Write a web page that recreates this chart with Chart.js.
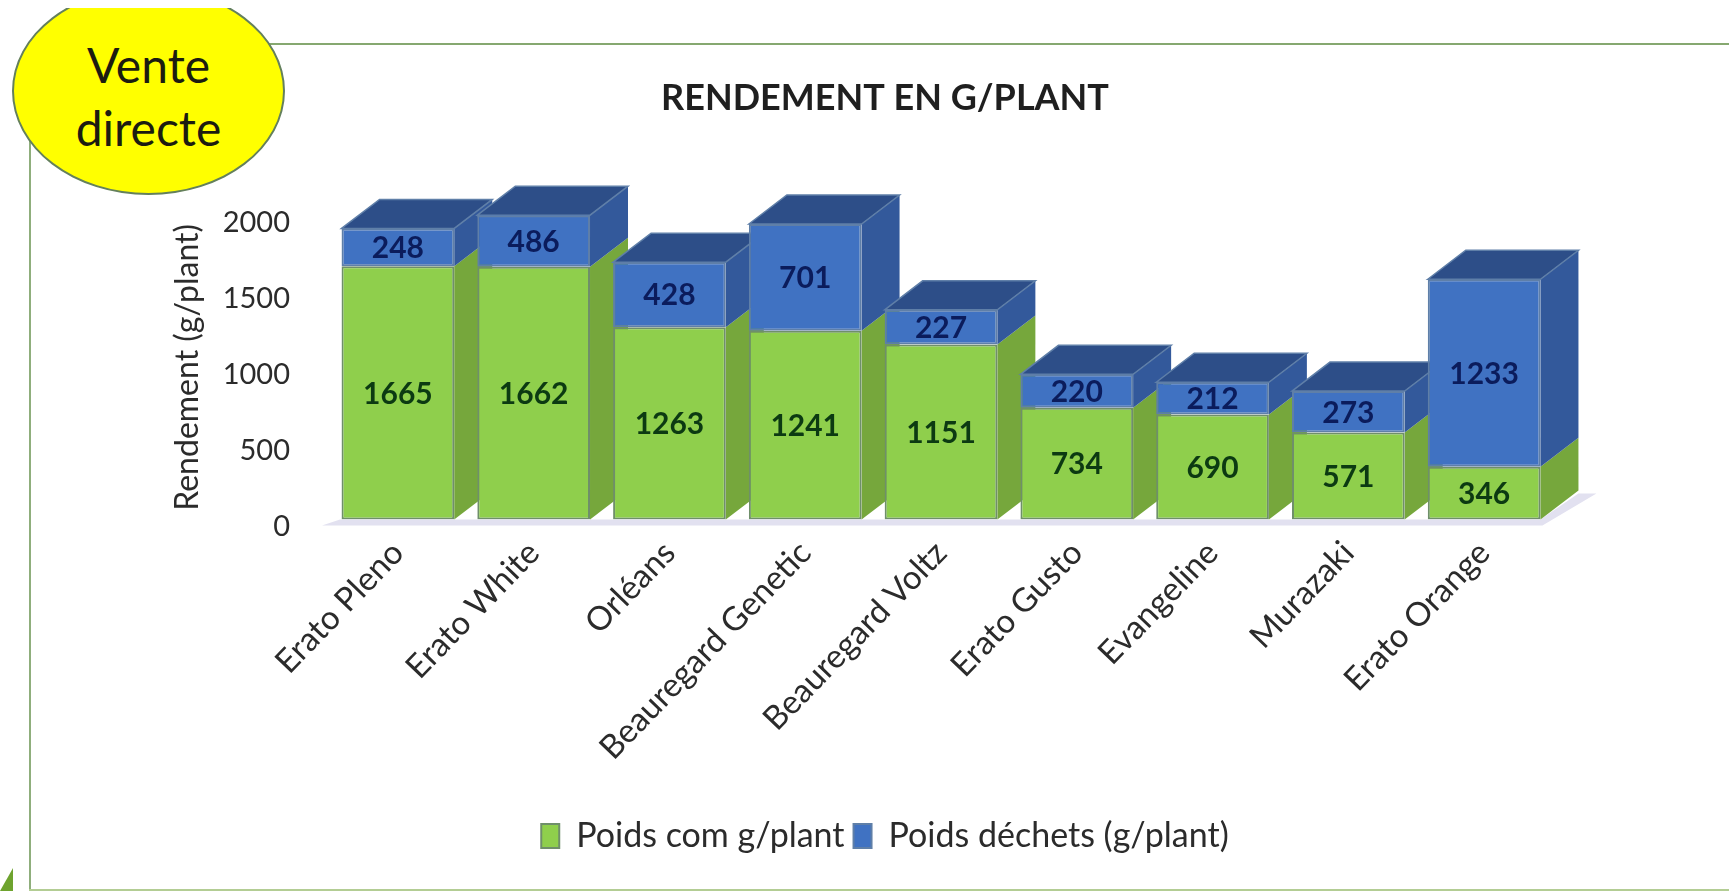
<!DOCTYPE html>
<html lang="fr">
<head>
<meta charset="utf-8">
<title>Rendement en g/plant</title>
<script src="https://cdn.jsdelivr.net/npm/chart.js@4"></script>
<style>
  html, body { margin: 0; padding: 0; background: #fff; overflow: hidden; }
  body { position: relative; width: 1729px; height: 891px; font-family: Lato, sans-serif; }
  #frame-top    { position: absolute; left: 30px; top: 43px; right: 0; height: 2px; background: #86a870; }
  #frame-left   { position: absolute; left: 29px; top: 43px; bottom: 2px; width: 2px; background: #8fae7c; }
  #frame-bottom { position: absolute; left: 29px; right: 0; bottom: 0; height: 2px; background: #b3cd94; }
  #corner { position: absolute; left: 0; top: 868px; width: 13px; height: 23px; background: #6ea32e; clip-path: polygon(100% 0, 100% 100%, 0 100%); }
  #chart-box { position: absolute; left: 41px; top: 0; width: 1688px; height: 891px; filter: blur(0.6px); }
  #badge-clip { position: absolute; left: 0; top: 8px; width: 300px; height: 200px; overflow: hidden; }
  #badge {
    position: absolute; left: 12px; top: -21px; width: 273px; height: 208px; box-sizing: border-box;
    border: 2px solid #64805c; border-radius: 50%; background: #ffff00; color: #1c1c10;
    font-size: 48px; line-height: 63px; text-align: center; padding-top: 44px;
  }
</style>
</head>
<body>
<div id="frame-top"></div>
<div id="frame-left"></div>
<div id="frame-bottom"></div>
<div id="corner"></div>
<div id="chart-box"><canvas id="chart-rendement" width="1688" height="891"></canvas></div>
<div id="badge-clip"><div id="badge">Vente<br>directe</div></div>
<script>
const VARIETIES = ['Erato Pleno', 'Erato White', 'Orléans', 'Beauregard Genetic', 'Beauregard Voltz', 'Erato Gusto', 'Evangeline', 'Murazaki', 'Erato Orange'];
const POIDS_COM = [1665, 1662, 1263, 1241, 1151, 734, 690, 571, 346];
const POIDS_DECHETS = [248, 486, 428, 701, 227, 220, 212, 273, 1233];

const C = {
  greenFront: '#8fcf4c',
  greenSide:  '#76a73c',
  greenEdge:  '#6f8f6a',
  blueFront:  '#4072c2',
  blueSide:   '#33599b',
  blueTop:    '#2d4e88',
  blueEdge:   '#5f7fa8',
  floor:      '#e2e1f0',
  text:       '#2b2b2b',
  labelGreen: '#0c3a12',
  labelBlue:  '#0b1c5c',
};
const FONT = 'Lato';
const DEPTH_X = 38;
const DEPTH_Y = 29;

function poly(ctx, pts, fill, stroke) {
  ctx.beginPath();
  pts.forEach((p, i) => i ? ctx.lineTo(p[0], p[1]) : ctx.moveTo(p[0], p[1]));
  ctx.closePath();
  ctx.fillStyle = fill;
  ctx.fill();
  if (stroke) {
    ctx.strokeStyle = stroke;
    ctx.lineWidth = 1.5;
    ctx.stroke();
  }
}

// faked 3D: floor, side and top faces are worked out from the bar elements
const depthPlugin = {
  id: 'depth',
  beforeDatasetsDraw(chart) {
    const ctx = chart.ctx;
    const top = chart.chartArea.top;
    const green = chart.getDatasetMeta(0).data;
    const blue = chart.getDatasetMeta(1).data;
    const last = green[green.length - 1];
    const lastRight = last.x + last.width / 2;
    const base = last.base;

    ctx.save();
    poly(ctx, [
      [chart.chartArea.left - 8, base + 6],
      [lastRight + 2, base + 6],
      [lastRight + DEPTH_X + 18, base - DEPTH_Y + 3],
      [lastRight + DEPTH_X, base - DEPTH_Y + 3],
      [lastRight, base],
      [chart.chartArea.left + 10, base],
    ], C.floor);

    green.forEach((bar, i) => {
      const right = bar.x + bar.width / 2;
      const left = bar.x - bar.width / 2;
      const seam = bar.y;
      const upper = Math.max(blue[i].y, top);
      poly(ctx, [[right, base], [right + DEPTH_X, base - DEPTH_Y], [right + DEPTH_X, seam - DEPTH_Y], [right, seam]], C.greenSide);
      poly(ctx, [[right, seam], [right + DEPTH_X, seam - DEPTH_Y], [right + DEPTH_X, upper - DEPTH_Y], [right, upper]], C.blueSide);
      poly(ctx, [[left, upper], [left + DEPTH_X, upper - DEPTH_Y], [right + DEPTH_X, upper - DEPTH_Y], [right, upper]], C.blueTop, C.blueEdge);
    });
    ctx.restore();
  },
  afterDatasetsDraw(chart) {
    const ctx = chart.ctx;
    const top = chart.chartArea.top;
    ctx.save();
    ctx.textAlign = 'center';
    ctx.textBaseline = 'middle';
    ctx.font = 'bold 30px ' + FONT;
    [C.labelGreen, C.labelBlue].forEach((color, d) => {
      ctx.fillStyle = color;
      chart.getDatasetMeta(d).data.forEach((bar, i) => {
        const upper = Math.max(bar.y, top);
        const value = chart.data.datasets[d].data[i];
        ctx.fillText(String(value), bar.x, (upper + bar.base) / 2 + 1);
      });
    });
    // the bar that runs past the axis maximum loses its top border to the clip
    ctx.strokeStyle = C.blueEdge;
    ctx.lineWidth = 2;
    chart.getDatasetMeta(1).data.forEach(bar => {
      if (bar.y < top) {
        ctx.beginPath();
        ctx.moveTo(bar.x - bar.width / 2, top + 1);
        ctx.lineTo(bar.x + bar.width / 2, top + 1);
        ctx.stroke();
      }
    });
    ctx.restore();
  },
};

new Chart(document.getElementById('chart-rendement'), {
  type: 'bar',
  data: {
    labels: VARIETIES,
    datasets: [
      { label: 'Poids com g/plant', data: POIDS_COM, backgroundColor: C.greenFront, borderColor: C.greenEdge, borderWidth: 2, borderSkipped: false },
      { label: 'Poids déchets (g/plant)', data: POIDS_DECHETS, backgroundColor: C.blueFront, borderColor: C.blueEdge, borderWidth: 2, borderSkipped: false },
    ],
  },
  plugins: [depthPlugin],
  options: {
    responsive: false,
    animation: false,
    layout: { padding: { bottom: 28 } },
    datasets: { bar: { categoryPercentage: 1, barPercentage: 0.83 } },
    plugins: {
      tooltip: { enabled: false },
      title: {
        display: true,
        text: 'RENDEMENT EN G/PLANT',
        color: '#1f1f1f',
        font: { family: FONT, size: 36, weight: 'bold' },
        padding: { top: 77, bottom: 95 },
      },
      legend: {
        position: 'bottom',
        labels: { color: C.text, font: { family: FONT, size: 34 }, boxWidth: 18, boxHeight: 24, padding: 9 },
      },
    },
    scales: {
      x: {
        stacked: true,
        grid: { display: false, drawTicks: false },
        border: { display: false },
        ticks: { color: C.text, font: { family: FONT, size: 33 }, minRotation: 46, maxRotation: 46, padding: 14, autoSkip: false },
        afterFit(scale) { scale.height = 290.5; },
      },
      y: {
        stacked: true,
        min: 0,
        max: 2000,
        grid: { display: false, drawTicks: false },
        border: { display: false },
        ticks: { color: C.text, font: { family: FONT, size: 29 }, stepSize: 500, padding: 40, labelOffset: 7, callback: v => String(v) },
        title: { display: true, text: 'Rendement (g/plant)', color: C.text, font: { family: FONT, size: 32 }, padding: { top: 127, bottom: 0 } },
        afterFit(scale) { scale.width = 289; },
      },
      // empty axis, keeps the plot clear of the right side while title and legend stay centred on the canvas
      spacer: {
        position: 'right',
        grid: { display: false, drawTicks: false },
        border: { display: false },
        ticks: { display: false },
        afterFit(scale) { scale.width = 177; },
      },
    },
  },
});
</script>
</body>
</html>
